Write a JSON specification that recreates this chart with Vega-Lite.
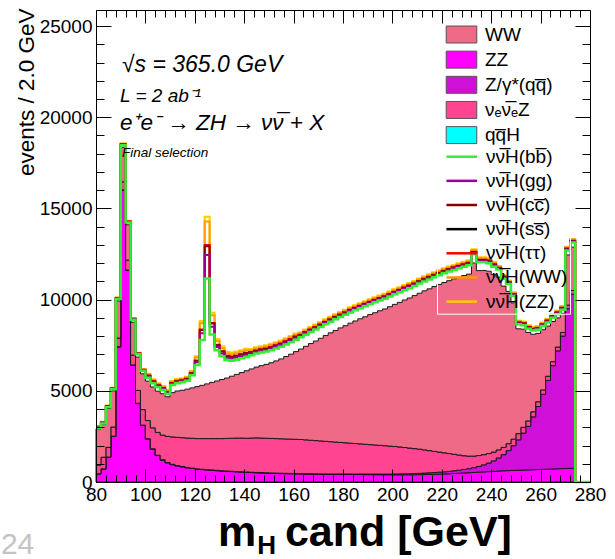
{
  "$schema": "https://vega.github.io/schema/vega-lite/v6.json",
  "width": 494,
  "height": 472,
  "autosize": {"type": "none"},
  "padding": {"left": 96, "top": 10, "right": 25, "bottom": 77},
  "background": "white",
  "config": {"view": {"stroke": null}, "font": "Liberation Sans"},
  "datasets": {"one": [{"n": 1}]},
  "data": {"values": [
    {"m":80,"ZZ":440,"Zqq":10,"nnZ":480,"WW":1986,"Hbb":60,"Hgg":25,"Hcc":15,"Htt":8,"HWW":30,"HZZ":15},
    {"m":82,"ZZ":710,"Zqq":10,"nnZ":640,"WW":1794,"Hbb":60,"Hgg":25,"Hcc":15,"Htt":8,"HWW":30,"HZZ":15},
    {"m":84,"ZZ":1360,"Zqq":10,"nnZ":530,"WW":2130,"Hbb":70,"Hgg":25,"Hcc":15,"Htt":8,"HWW":30,"HZZ":15},
    {"m":86,"ZZ":2500,"Zqq":15,"nnZ":500,"WW":1985,"Hbb":80,"Hgg":25,"Hcc":15,"Htt":8,"HWW":30,"HZZ":15},
    {"m":88,"ZZ":7400,"Zqq":20,"nnZ":470,"WW":2040,"Hbb":100,"Hgg":25,"Hcc":15,"Htt":8,"HWW":30,"HZZ":15},
    {"m":90,"ZZ":16000,"Zqq":20,"nnZ":440,"WW":1890,"Hbb":120,"Hgg":25,"Hcc":15,"Htt":8,"HWW":30,"HZZ":15},
    {"m":92,"ZZ":11600,"Zqq":20,"nnZ":550,"WW":1930,"Hbb":130,"Hgg":25,"Hcc":15,"Htt":8,"HWW":30,"HZZ":15},
    {"m":94,"ZZ":6400,"Zqq":20,"nnZ":540,"WW":1800,"Hbb":140,"Hgg":25,"Hcc":15,"Htt":8,"HWW":30,"HZZ":15},
    {"m":96,"ZZ":4300,"Zqq":20,"nnZ":700,"WW":1830,"Hbb":150,"Hgg":25,"Hcc":15,"Htt":8,"HWW":30,"HZZ":15},
    {"m":98,"ZZ":3100,"Zqq":20,"nnZ":850,"WW":1960,"Hbb":170,"Hgg":25,"Hcc":15,"Htt":8,"HWW":30,"HZZ":15},
    {"m":100,"ZZ":2350,"Zqq":20,"nnZ":1000,"WW":2160,"Hbb":190,"Hgg":60,"Hcc":40,"Htt":12,"HWW":70,"HZZ":40},
    {"m":102,"ZZ":1800,"Zqq":20,"nnZ":1150,"WW":2240,"Hbb":200,"Hgg":60,"Hcc":40,"Htt":12,"HWW":70,"HZZ":40},
    {"m":104,"ZZ":1450,"Zqq":20,"nnZ":1250,"WW":2260,"Hbb":210,"Hgg":60,"Hcc":40,"Htt":12,"HWW":70,"HZZ":40},
    {"m":106,"ZZ":1200,"Zqq":20,"nnZ":1350,"WW":2270,"Hbb":200,"Hgg":60,"Hcc":40,"Htt":12,"HWW":70,"HZZ":40},
    {"m":108,"ZZ":1050,"Zqq":20,"nnZ":1430,"WW":2170,"Hbb":150,"Hgg":60,"Hcc":40,"Htt":12,"HWW":70,"HZZ":40},
    {"m":110,"ZZ":950,"Zqq":20,"nnZ":1500,"WW":2430,"Hbb":420,"Hgg":60,"Hcc":40,"Htt":12,"HWW":70,"HZZ":40},
    {"m":112,"ZZ":880,"Zqq":20,"nnZ":1550,"WW":2540,"Hbb":430,"Hgg":60,"Hcc":40,"Htt":12,"HWW":70,"HZZ":40},
    {"m":114,"ZZ":830,"Zqq":20,"nnZ":1580,"WW":2600,"Hbb":440,"Hgg":60,"Hcc":40,"Htt":12,"HWW":70,"HZZ":40},
    {"m":116,"ZZ":780,"Zqq":20,"nnZ":1610,"WW":2680,"Hbb":460,"Hgg":60,"Hcc":40,"Htt":12,"HWW":70,"HZZ":40},
    {"m":118,"ZZ":740,"Zqq":20,"nnZ":1640,"WW":2760,"Hbb":700,"Hgg":60,"Hcc":40,"Htt":12,"HWW":70,"HZZ":40},
    {"m":120,"ZZ":700,"Zqq":20,"nnZ":1660,"WW":2850,"Hbb":1180,"Hgg":150,"Hcc":80,"Htt":20,"HWW":160,"HZZ":70},
    {"m":122,"ZZ":680,"Zqq":20,"nnZ":1680,"WW":2920,"Hbb":2480,"Hgg":380,"Hcc":170,"Htt":30,"HWW":350,"HZZ":120},
    {"m":124,"ZZ":660,"Zqq":20,"nnZ":1700,"WW":3000,"Hbb":5780,"Hgg":1280,"Hcc":490,"Htt":60,"HWW":1300,"HZZ":250},
    {"m":126,"ZZ":640,"Zqq":20,"nnZ":1720,"WW":3080,"Hbb":2630,"Hgg":420,"Hcc":180,"Htt":30,"HWW":420,"HZZ":140},
    {"m":128,"ZZ":620,"Zqq":20,"nnZ":1740,"WW":3160,"Hbb":1690,"Hgg":170,"Hcc":110,"Htt":20,"HWW":200,"HZZ":110},
    {"m":130,"ZZ":600,"Zqq":20,"nnZ":1760,"WW":3240,"Hbb":1280,"Hgg":150,"Hcc":100,"Htt":20,"HWW":170,"HZZ":100},
    {"m":132,"ZZ":585,"Zqq":20,"nnZ":1785,"WW":3310,"Hbb":990,"Hgg":120,"Hcc":90,"Htt":20,"HWW":130,"HZZ":90},
    {"m":134,"ZZ":570,"Zqq":20,"nnZ":1810,"WW":3400,"Hbb":850,"Hgg":120,"Hcc":90,"Htt":20,"HWW":130,"HZZ":90},
    {"m":136,"ZZ":555,"Zqq":20,"nnZ":1835,"WW":3490,"Hbb":800,"Hgg":120,"Hcc":90,"Htt":20,"HWW":130,"HZZ":90},
    {"m":138,"ZZ":540,"Zqq":20,"nnZ":1850,"WW":3590,"Hbb":780,"Hgg":120,"Hcc":90,"Htt":20,"HWW":130,"HZZ":90},
    {"m":140,"ZZ":530,"Zqq":20,"nnZ":1850,"WW":3700,"Hbb":760,"Hgg":120,"Hcc":90,"Htt":20,"HWW":130,"HZZ":90},
    {"m":142,"ZZ":515,"Zqq":20,"nnZ":1875,"WW":3790,"Hbb":750,"Hgg":90,"Hcc":70,"Htt":15,"HWW":100,"HZZ":70},
    {"m":144,"ZZ":505,"Zqq":20,"nnZ":1895,"WW":3880,"Hbb":740,"Hgg":90,"Hcc":70,"Htt":15,"HWW":100,"HZZ":70},
    {"m":146,"ZZ":495,"Zqq":20,"nnZ":1895,"WW":3970,"Hbb":720,"Hgg":90,"Hcc":70,"Htt":15,"HWW":100,"HZZ":70},
    {"m":148,"ZZ":485,"Zqq":20,"nnZ":1895,"WW":4050,"Hbb":700,"Hgg":90,"Hcc":70,"Htt":15,"HWW":100,"HZZ":70},
    {"m":150,"ZZ":475,"Zqq":20,"nnZ":1895,"WW":4150,"Hbb":690,"Hgg":90,"Hcc":70,"Htt":15,"HWW":100,"HZZ":70},
    {"m":152,"ZZ":468,"Zqq":20,"nnZ":1892,"WW":4260,"Hbb":680,"Hgg":90,"Hcc":70,"Htt":15,"HWW":100,"HZZ":70},
    {"m":154,"ZZ":460,"Zqq":20,"nnZ":1890,"WW":4380,"Hbb":670,"Hgg":90,"Hcc":70,"Htt":15,"HWW":100,"HZZ":70},
    {"m":156,"ZZ":455,"Zqq":20,"nnZ":1885,"WW":4520,"Hbb":660,"Hgg":90,"Hcc":70,"Htt":15,"HWW":100,"HZZ":70},
    {"m":158,"ZZ":450,"Zqq":20,"nnZ":1880,"WW":4660,"Hbb":650,"Hgg":90,"Hcc":70,"Htt":15,"HWW":100,"HZZ":70},
    {"m":160,"ZZ":445,"Zqq":20,"nnZ":1875,"WW":4810,"Hbb":650,"Hgg":90,"Hcc":70,"Htt":15,"HWW":100,"HZZ":70},
    {"m":162,"ZZ":440,"Zqq":20,"nnZ":1870,"WW":4960,"Hbb":640,"Hgg":70,"Hcc":55,"Htt":15,"HWW":80,"HZZ":55},
    {"m":164,"ZZ":436,"Zqq":20,"nnZ":1854,"WW":5130,"Hbb":640,"Hgg":70,"Hcc":55,"Htt":15,"HWW":80,"HZZ":55},
    {"m":166,"ZZ":432,"Zqq":20,"nnZ":1838,"WW":5300,"Hbb":630,"Hgg":70,"Hcc":55,"Htt":15,"HWW":80,"HZZ":55},
    {"m":168,"ZZ":428,"Zqq":20,"nnZ":1822,"WW":5460,"Hbb":630,"Hgg":70,"Hcc":55,"Htt":15,"HWW":80,"HZZ":55},
    {"m":170,"ZZ":425,"Zqq":20,"nnZ":1805,"WW":5630,"Hbb":620,"Hgg":70,"Hcc":55,"Htt":15,"HWW":80,"HZZ":55},
    {"m":172,"ZZ":422,"Zqq":20,"nnZ":1788,"WW":5800,"Hbb":620,"Hgg":70,"Hcc":55,"Htt":15,"HWW":80,"HZZ":55},
    {"m":174,"ZZ":420,"Zqq":20,"nnZ":1770,"WW":5970,"Hbb":610,"Hgg":70,"Hcc":55,"Htt":15,"HWW":80,"HZZ":55},
    {"m":176,"ZZ":418,"Zqq":20,"nnZ":1752,"WW":6120,"Hbb":610,"Hgg":70,"Hcc":55,"Htt":15,"HWW":80,"HZZ":55},
    {"m":178,"ZZ":416,"Zqq":25,"nnZ":1729,"WW":6280,"Hbb":600,"Hgg":70,"Hcc":55,"Htt":15,"HWW":80,"HZZ":55},
    {"m":180,"ZZ":414,"Zqq":25,"nnZ":1711,"WW":6420,"Hbb":600,"Hgg":70,"Hcc":55,"Htt":15,"HWW":80,"HZZ":55},
    {"m":182,"ZZ":412,"Zqq":25,"nnZ":1693,"WW":6580,"Hbb":590,"Hgg":70,"Hcc":55,"Htt":15,"HWW":80,"HZZ":55},
    {"m":184,"ZZ":410,"Zqq":25,"nnZ":1675,"WW":6720,"Hbb":590,"Hgg":70,"Hcc":55,"Htt":15,"HWW":80,"HZZ":55},
    {"m":186,"ZZ":408,"Zqq":30,"nnZ":1652,"WW":6860,"Hbb":580,"Hgg":70,"Hcc":55,"Htt":15,"HWW":80,"HZZ":55},
    {"m":188,"ZZ":406,"Zqq":30,"nnZ":1634,"WW":6990,"Hbb":580,"Hgg":70,"Hcc":55,"Htt":15,"HWW":80,"HZZ":55},
    {"m":190,"ZZ":404,"Zqq":30,"nnZ":1616,"WW":7130,"Hbb":570,"Hgg":70,"Hcc":55,"Htt":15,"HWW":80,"HZZ":55},
    {"m":192,"ZZ":402,"Zqq":35,"nnZ":1593,"WW":7250,"Hbb":570,"Hgg":70,"Hcc":55,"Htt":15,"HWW":80,"HZZ":55},
    {"m":194,"ZZ":400,"Zqq":35,"nnZ":1575,"WW":7380,"Hbb":560,"Hgg":70,"Hcc":55,"Htt":15,"HWW":80,"HZZ":55},
    {"m":196,"ZZ":398,"Zqq":40,"nnZ":1552,"WW":7500,"Hbb":560,"Hgg":70,"Hcc":55,"Htt":15,"HWW":80,"HZZ":55},
    {"m":198,"ZZ":396,"Zqq":40,"nnZ":1534,"WW":7640,"Hbb":560,"Hgg":70,"Hcc":55,"Htt":15,"HWW":80,"HZZ":55},
    {"m":200,"ZZ":395,"Zqq":45,"nnZ":1510,"WW":7790,"Hbb":550,"Hgg":70,"Hcc":55,"Htt":15,"HWW":80,"HZZ":55},
    {"m":202,"ZZ":395,"Zqq":50,"nnZ":1475,"WW":7930,"Hbb":550,"Hgg":70,"Hcc":55,"Htt":15,"HWW":80,"HZZ":55},
    {"m":204,"ZZ":396,"Zqq":55,"nnZ":1439,"WW":8090,"Hbb":540,"Hgg":70,"Hcc":55,"Htt":15,"HWW":80,"HZZ":55},
    {"m":206,"ZZ":398,"Zqq":60,"nnZ":1402,"WW":8230,"Hbb":540,"Hgg":70,"Hcc":55,"Htt":15,"HWW":80,"HZZ":55},
    {"m":208,"ZZ":400,"Zqq":65,"nnZ":1365,"WW":8390,"Hbb":530,"Hgg":70,"Hcc":55,"Htt":15,"HWW":80,"HZZ":55},
    {"m":210,"ZZ":405,"Zqq":70,"nnZ":1325,"WW":8550,"Hbb":530,"Hgg":70,"Hcc":55,"Htt":15,"HWW":80,"HZZ":55},
    {"m":212,"ZZ":410,"Zqq":80,"nnZ":1270,"WW":8720,"Hbb":520,"Hgg":70,"Hcc":55,"Htt":15,"HWW":80,"HZZ":55},
    {"m":214,"ZZ":415,"Zqq":90,"nnZ":1215,"WW":8870,"Hbb":520,"Hgg":70,"Hcc":55,"Htt":15,"HWW":80,"HZZ":55},
    {"m":216,"ZZ":420,"Zqq":100,"nnZ":1160,"WW":9040,"Hbb":510,"Hgg":70,"Hcc":55,"Htt":15,"HWW":80,"HZZ":55},
    {"m":218,"ZZ":430,"Zqq":110,"nnZ":1100,"WW":9190,"Hbb":510,"Hgg":70,"Hcc":55,"Htt":15,"HWW":80,"HZZ":55},
    {"m":220,"ZZ":440,"Zqq":120,"nnZ":1040,"WW":9340,"Hbb":500,"Hgg":70,"Hcc":55,"Htt":15,"HWW":80,"HZZ":55},
    {"m":222,"ZZ":450,"Zqq":135,"nnZ":975,"WW":9480,"Hbb":500,"Hgg":70,"Hcc":55,"Htt":15,"HWW":80,"HZZ":55},
    {"m":224,"ZZ":465,"Zqq":150,"nnZ":905,"WW":9620,"Hbb":490,"Hgg":70,"Hcc":55,"Htt":15,"HWW":80,"HZZ":55},
    {"m":226,"ZZ":480,"Zqq":170,"nnZ":830,"WW":9750,"Hbb":490,"Hgg":70,"Hcc":55,"Htt":15,"HWW":80,"HZZ":55},
    {"m":228,"ZZ":495,"Zqq":195,"nnZ":750,"WW":9880,"Hbb":480,"Hgg":70,"Hcc":55,"Htt":15,"HWW":80,"HZZ":55},
    {"m":230,"ZZ":510,"Zqq":220,"nnZ":690,"WW":9980,"Hbb":480,"Hgg":70,"Hcc":55,"Htt":15,"HWW":80,"HZZ":55},
    {"m":232,"ZZ":525,"Zqq":260,"nnZ":635,"WW":10590,"Hbb":480,"Hgg":70,"Hcc":55,"Htt":15,"HWW":80,"HZZ":55},
    {"m":234,"ZZ":540,"Zqq":310,"nnZ":600,"WW":10140,"Hbb":460,"Hgg":70,"Hcc":55,"Htt":15,"HWW":80,"HZZ":55},
    {"m":236,"ZZ":555,"Zqq":385,"nnZ":560,"WW":10100,"Hbb":450,"Hgg":70,"Hcc":55,"Htt":15,"HWW":80,"HZZ":55},
    {"m":238,"ZZ":570,"Zqq":470,"nnZ":520,"WW":10000,"Hbb":440,"Hgg":70,"Hcc":55,"Htt":15,"HWW":80,"HZZ":55},
    {"m":240,"ZZ":585,"Zqq":575,"nnZ":480,"WW":9730,"Hbb":430,"Hgg":70,"Hcc":55,"Htt":15,"HWW":80,"HZZ":55},
    {"m":242,"ZZ":600,"Zqq":720,"nnZ":440,"WW":9470,"Hbb":420,"Hgg":50,"Hcc":40,"Htt":10,"HWW":60,"HZZ":40},
    {"m":244,"ZZ":615,"Zqq":885,"nnZ":400,"WW":8840,"Hbb":410,"Hgg":50,"Hcc":40,"Htt":10,"HWW":60,"HZZ":40},
    {"m":246,"ZZ":625,"Zqq":1095,"nnZ":380,"WW":8350,"Hbb":400,"Hgg":50,"Hcc":40,"Htt":10,"HWW":60,"HZZ":40},
    {"m":248,"ZZ":635,"Zqq":1355,"nnZ":360,"WW":7470,"Hbb":380,"Hgg":50,"Hcc":40,"Htt":10,"HWW":60,"HZZ":40},
    {"m":250,"ZZ":645,"Zqq":1665,"nnZ":340,"WW":5750,"Hbb":250,"Hgg":50,"Hcc":40,"Htt":10,"HWW":60,"HZZ":40},
    {"m":252,"ZZ":655,"Zqq":2025,"nnZ":320,"WW":5380,"Hbb":220,"Hgg":50,"Hcc":40,"Htt":10,"HWW":60,"HZZ":40},
    {"m":254,"ZZ":665,"Zqq":2385,"nnZ":300,"WW":4850,"Hbb":200,"Hgg":50,"Hcc":40,"Htt":10,"HWW":60,"HZZ":40},
    {"m":256,"ZZ":675,"Zqq":2895,"nnZ":280,"WW":4250,"Hbb":200,"Hgg":50,"Hcc":40,"Htt":10,"HWW":60,"HZZ":40},
    {"m":258,"ZZ":685,"Zqq":3455,"nnZ":260,"WW":3750,"Hbb":200,"Hgg":50,"Hcc":40,"Htt":10,"HWW":60,"HZZ":40},
    {"m":260,"ZZ":695,"Zqq":4115,"nnZ":240,"WW":3300,"Hbb":200,"Hgg":50,"Hcc":40,"Htt":10,"HWW":60,"HZZ":40},
    {"m":262,"ZZ":705,"Zqq":4865,"nnZ":230,"WW":2750,"Hbb":200,"Hgg":50,"Hcc":40,"Htt":10,"HWW":60,"HZZ":40},
    {"m":264,"ZZ":715,"Zqq":5665,"nnZ":220,"WW":2200,"Hbb":200,"Hgg":50,"Hcc":40,"Htt":10,"HWW":60,"HZZ":40},
    {"m":266,"ZZ":725,"Zqq":6465,"nnZ":210,"WW":1600,"Hbb":200,"Hgg":50,"Hcc":40,"Htt":10,"HWW":60,"HZZ":40},
    {"m":268,"ZZ":735,"Zqq":7265,"nnZ":200,"WW":1050,"Hbb":200,"Hgg":50,"Hcc":40,"Htt":10,"HWW":60,"HZZ":40},
    {"m":270,"ZZ":745,"Zqq":8755,"nnZ":200,"WW":2750,"Hbb":250,"Hgg":50,"Hcc":40,"Htt":10,"HWW":60,"HZZ":40},
    {"m":272,"ZZ":750,"Zqq":9550,"nnZ":200,"WW":2380,"Hbb":250,"Hgg":50,"Hcc":40,"Htt":10,"HWW":60,"HZZ":40},
    {"m":274,"ZZ":0,"Zqq":0,"nnZ":0,"WW":0,"Hbb":0,"Hgg":0,"Hcc":0,"Htt":0,"HWW":0,"HZZ":0},
    {"m":276,"ZZ":0,"Zqq":0,"nnZ":0,"WW":0,"Hbb":0,"Hgg":0,"Hcc":0,"Htt":0,"HWW":0,"HZZ":0},
    {"m":278,"ZZ":0,"Zqq":0,"nnZ":0,"WW":0,"Hbb":0,"Hgg":0,"Hcc":0,"Htt":0,"HWW":0,"HZZ":0},
    {"m":280,"ZZ":0,"Zqq":0,"nnZ":0,"WW":0,"Hbb":0,"Hgg":0,"Hcc":0,"Htt":0,"HWW":0,"HZZ":0}
  ]},
  "transform": [
    {"fold": ["ZZ","Zqq","nnZ","WW","Hbb","Hgg","Hcc","Htt","HWW","HZZ"], "as": ["key","value"]},
    {"lookup": "key", "from": {"data": {"values": [
      {"key":"ZZ","ord":1},{"key":"Zqq","ord":2},{"key":"nnZ","ord":3},{"key":"WW","ord":4},
      {"key":"Hbb","ord":5},{"key":"Hgg","ord":6},{"key":"Hcc","ord":7},{"key":"Htt","ord":8},
      {"key":"HWW","ord":9},{"key":"HZZ","ord":10}]}, "key": "key", "fields": ["ord"]}},
    {"stack": "value", "groupby": ["m"], "sort": [{"field": "ord", "order": "ascending"}], "as": ["lo","hi"]}
  ],
  "resolve": {"axis": {"x": "independent", "y": "independent"}},
  "layer": [
    {
      "transform": [{"filter": {"field": "key", "oneOf": ["ZZ","Zqq","nnZ","WW"]}}],
      "mark": {"type": "area", "interpolate": "step-after", "stroke": "#1a1a1a", "strokeWidth": 1},
      "encoding": {
        "x": {"field": "m", "type": "quantitative",
              "scale": {"domain": [80, 280], "nice": false, "zero": false},
              "axis": {"orient": "bottom", "zindex": 1,
                       "values": [80,84,88,92,96,100,104,108,112,116,120,124,128,132,136,140,144,148,152,156,160,164,168,172,176,180,184,188,192,196,200,204,208,212,216,220,224,228,232,236,240,244,248,252,256,260,264,268,272,276,280],
                       "labelExpr": "datum.value % 20 === 0 ? datum.label : ''",
                       "tickSize": {"condition": {"test": "datum.value % 20 === 0", "value": -13}, "value": -7},
                       "tickColor": "black", "tickWidth": 1,
                       "domain": true, "domainColor": "black", "domainWidth": 1,
                       "labelFont": "Liberation Sans", "labelFontSize": 19, "labelColor": "black",
                       "labelPadding": 16, "labelFlush": false, "labelOverlap": false, "labelBound": false,
                       "grid": false, "title": null}},
        "y": {"field": "hi", "type": "quantitative", "stack": null,
              "scale": {"domain": [0, 25880], "nice": false, "zero": true},
              "axis": {"orient": "left", "zindex": 1,
                       "values": [0,1000,2000,3000,4000,5000,6000,7000,8000,9000,10000,11000,12000,13000,14000,15000,16000,17000,18000,19000,20000,21000,22000,23000,24000,25000],
                       "format": "d",
                       "labelExpr": "datum.value % 5000 === 0 ? datum.label : ''",
                       "tickSize": {"condition": {"test": "datum.value % 5000 === 0", "value": -15}, "value": -8},
                       "tickColor": "black", "tickWidth": 1,
                       "domain": true, "domainColor": "black", "domainWidth": 1,
                       "labelFont": "Liberation Sans", "labelFontSize": 19, "labelColor": "black",
                       "labelPadding": 19, "labelFlush": false, "labelOverlap": false, "labelBound": false,
                       "grid": false,
                       "title": "events / 2.0 GeV", "titleFont": "Liberation Sans", "titleFontSize": 22.5,
                       "titleFontWeight": "normal", "titleColor": "black", "titleAnchor": "end",
                       "titleAlign": "right", "titleBaseline": "alphabetic", "titleAngle": 270,
                       "titleX": -63, "titleY": -2}},
        "y2": {"field": "lo"},
        "fill": {"field": "key", "type": "nominal",
                 "scale": {"domain": ["WW","ZZ","Zqq","nnZ","qqH"],
                           "range": ["#ee6a87","#ff00ff","#d010d8","#ff4591","#00ffff"]},
                 "legend": {"orient": "none", "legendX": 356, "legendY": 15, "title": null,
                            "direction": "vertical", "padding": 0,
                            "symbolType": "M-1.8,-1H1.8V1H-1.8Z", "symbolSize": 289,
                            "symbolStrokeColor": "#555555", "symbolStrokeWidth": 1, "symbolOpacity": 1,
                            "labelFont": "Liberation Sans", "labelFontSize": 19, "labelColor": "black",
                            "labelOffset": 14, "rowPadding": 4.15, "labelLimit": 200,
                            "labelExpr": "datum.label == 'Zqq' ? 'Z/γ*(qq\u0305)' : datum.label == 'nnZ' ? 'νₑν\u0305ₑZ' : datum.label == 'qqH' ? 'qq\u0305H' : datum.label"}}
      }
    },
    {
      "transform": [{"filter": "datum.key == 'HZZ'"}],
      "mark": {"type": "line", "interpolate": "step-after", "strokeWidth": 2, "stroke": "#ffcc00"},
      "encoding": {
        "x": {"field": "m", "type": "quantitative", "scale": {"domain": [80, 280], "nice": false, "zero": false}, "axis": null},
        "y": {"field": "hi", "type": "quantitative", "stack": null, "axis": null}
      }
    },
    {
      "transform": [{"filter": "datum.key == 'HWW'"}],
      "mark": {"type": "line", "interpolate": "step-after", "strokeWidth": 2, "stroke": "#ff9900"},
      "encoding": {
        "x": {"field": "m", "type": "quantitative", "axis": null},
        "y": {"field": "hi", "type": "quantitative", "stack": null, "axis": null}
      }
    },
    {
      "transform": [{"filter": "datum.key == 'Htt'"}],
      "mark": {"type": "line", "interpolate": "step-after", "strokeWidth": 2, "stroke": "#ff0000"},
      "encoding": {
        "x": {"field": "m", "type": "quantitative", "axis": null},
        "y": {"field": "hi", "type": "quantitative", "stack": null, "axis": null}
      }
    },
    {
      "transform": [{"filter": "datum.key == 'Hcc'"}],
      "mark": {"type": "line", "interpolate": "step-after", "strokeWidth": 2, "stroke": "#880000"},
      "encoding": {
        "x": {"field": "m", "type": "quantitative", "axis": null},
        "y": {"field": "hi", "type": "quantitative", "stack": null, "axis": null}
      }
    },
    {
      "transform": [{"filter": "datum.key == 'Hgg'"}],
      "mark": {"type": "line", "interpolate": "step-after", "strokeWidth": 2, "stroke": "#990099"},
      "encoding": {
        "x": {"field": "m", "type": "quantitative", "axis": null},
        "y": {"field": "hi", "type": "quantitative", "stack": null, "axis": null}
      }
    },
    {
      "transform": [{"filter": "datum.key == 'Hbb'"}],
      "mark": {"type": "line", "interpolate": "step-after", "strokeWidth": 2.5},
      "encoding": {
        "x": {"field": "m", "type": "quantitative",
              "axis": {"orient": "top", "zindex": 1,
                       "values": [80,84,88,92,96,100,104,108,112,116,120,124,128,132,136,140,144,148,152,156,160,164,168,172,176,180,184,188,192,196,200,204,208,212,216,220,224,228,232,236,240,244,248,252,256,260,264,268,272,276,280],
                       "labels": false,
                       "tickSize": {"condition": {"test": "datum.value % 20 === 0", "value": -13}, "value": -7},
                       "tickColor": "black", "tickWidth": 1,
                       "domain": true, "domainColor": "black", "domainWidth": 1,
                       "grid": false, "title": null}},
        "y": {"field": "hi", "type": "quantitative", "stack": null,
              "axis": {"orient": "right", "zindex": 1,
                       "values": [0,1000,2000,3000,4000,5000,6000,7000,8000,9000,10000,11000,12000,13000,14000,15000,16000,17000,18000,19000,20000,21000,22000,23000,24000,25000],
                       "labels": false,
                       "tickSize": {"condition": {"test": "datum.value % 5000 === 0", "value": -15}, "value": -8},
                       "tickColor": "black", "tickWidth": 1,
                       "domain": true, "domainColor": "black", "domainWidth": 1,
                       "grid": false, "title": null}},
        "stroke": {"field": "key", "type": "nominal",
                   "scale": {"domain": ["Hbb","Hgg","Hcc","Hss","Htt","HWW","HZZ"],
                             "range": ["#33ee33","#990099","#880000","#000000","#ff0000","#ff9900","#ffcc00"]},
                   "legend": {"orient": "none", "legendX": 341, "legendY": 134.7, "title": null,
                              "direction": "vertical", "padding": 2,
                              "strokeColor": "white",
                              "symbolType": "M-0.3,0H3.3", "symbolSize": 289,
                              "symbolStrokeWidth": 2.5, "symbolFillColor": "transparent", "symbolOpacity": 1,
                              "labelFont": "Liberation Sans", "labelFontSize": 19, "labelColor": "black",
                              "labelOffset": 27, "rowPadding": 4.15, "labelLimit": 200,
                              "labelExpr": "datum.label == 'Hbb' ? 'νν\u0305H(bb\u0305)' : datum.label == 'Hgg' ? 'νν\u0305H(gg)' : datum.label == 'Hcc' ? 'νν\u0305H(cc\u0305)' : datum.label == 'Hss' ? 'νν\u0305H(ss\u0305)' : datum.label == 'Htt' ? 'νν\u0305H(ττ)' : datum.label == 'HWW' ? 'νν\u0305H(WW)' : 'νν\u0305H(ZZ)'"}}
      }
    },
    {
      "data": {"name": "one"},
      "mark": {"type": "text", "text": "√s = 365.0 GeV", "font": "Liberation Sans", "fontStyle": "italic", "fontWeight": "normal", "fontSize": 23, "align": "left", "baseline": "alphabetic", "fill": "black"},
      "encoding": {"x": {"datum": 90.5, "type": "quantitative", "axis": null}, "y": {"datum": 22480, "type": "quantitative", "axis": null}}
    },
    {
      "data": {"name": "one"},
      "mark": {"type": "text", "text": "L = 2 ab⁻¹", "font": "Liberation Sans", "fontStyle": "italic", "fontWeight": "normal", "fontSize": 19, "align": "left", "baseline": "alphabetic", "fill": "black"},
      "encoding": {"x": {"datum": 89.7, "type": "quantitative", "axis": null}, "y": {"datum": 20835, "type": "quantitative", "axis": null}}
    },
    {
      "data": {"name": "one"},
      "mark": {"type": "text", "text": "e⁺e⁻ → ZH → νν\u0305 + X", "font": "Liberation Sans", "fontStyle": "italic", "fontWeight": "normal", "fontSize": 22.5, "align": "left", "baseline": "alphabetic", "fill": "black"},
      "encoding": {"x": {"datum": 89.7, "type": "quantitative", "axis": null}, "y": {"datum": 19300, "type": "quantitative", "axis": null}}
    },
    {
      "data": {"name": "one"},
      "mark": {"type": "text", "text": "Final selection", "font": "Liberation Sans", "fontStyle": "italic", "fontWeight": "normal", "fontSize": 13.5, "align": "left", "baseline": "alphabetic", "fill": "black"},
      "encoding": {"x": {"datum": 90.5, "type": "quantitative", "axis": null}, "y": {"datum": 17820, "type": "quantitative", "axis": null}}
    },
    {
      "data": {"name": "one"},
      "mark": {"type": "text", "text": "m", "font": "Liberation Sans", "fontWeight": "bold", "fontSize": 43, "align": "left", "baseline": "alphabetic", "fill": "black"},
      "encoding": {"x": {"datum": 129.4, "type": "quantitative", "axis": null}, "y": {"datum": -3509, "type": "quantitative", "axis": null}}
    },
    {
      "data": {"name": "one"},
      "mark": {"type": "text", "text": "H", "font": "Liberation Sans", "fontWeight": "bold", "fontSize": 26, "align": "left", "baseline": "alphabetic", "fill": "black"},
      "encoding": {"x": {"datum": 145.3, "type": "quantitative", "axis": null}, "y": {"datum": -3950, "type": "quantitative", "axis": null}}
    },
    {
      "data": {"name": "one"},
      "mark": {"type": "text", "text": "cand [GeV]", "font": "Liberation Sans", "fontWeight": "bold", "fontSize": 43, "align": "left", "baseline": "alphabetic", "fill": "black"},
      "encoding": {"x": {"datum": 156.5, "type": "quantitative", "axis": null}, "y": {"datum": -3509, "type": "quantitative", "axis": null}}
    },
    {
      "data": {"name": "one"},
      "mark": {"type": "text", "text": "24", "font": "Liberation Sans", "fontWeight": "normal", "fontSize": 30, "align": "left", "baseline": "alphabetic", "fill": "#c4c4c4"},
      "encoding": {"x": {"datum": 41.5, "type": "quantitative", "axis": null}, "y": {"datum": -3950, "type": "quantitative", "axis": null}}
    }
  ]
}
